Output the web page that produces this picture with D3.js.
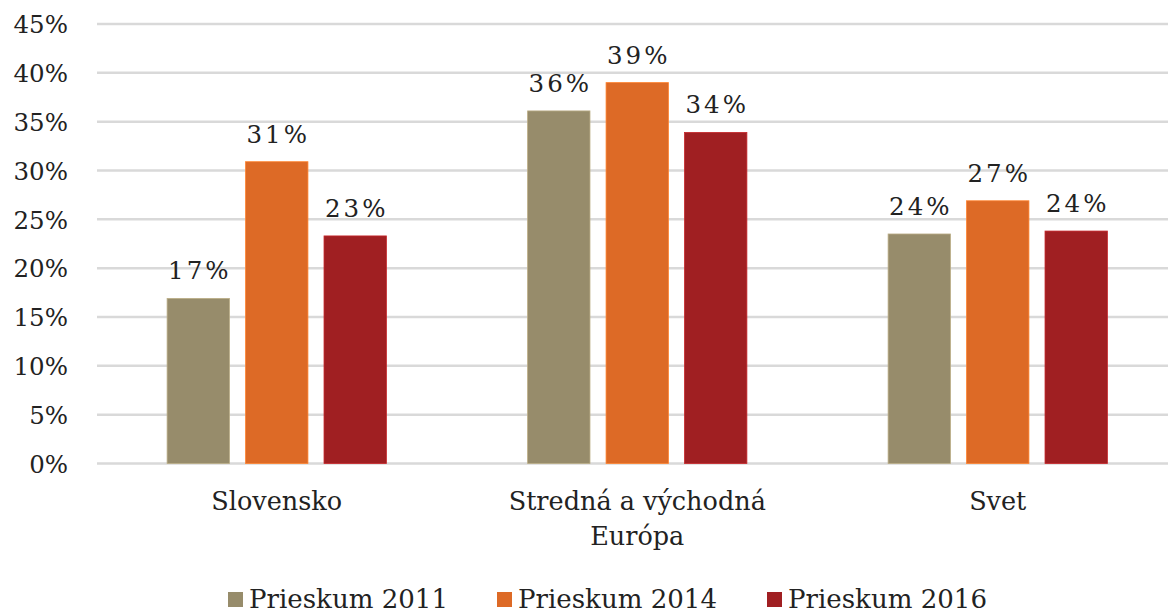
<!DOCTYPE html>
<html><head><meta charset="utf-8">
<script src="https://cdn.jsdelivr.net/npm/d3@7"></script>
<style>
html,body{margin:0;padding:0;background:#fff;}
svg{display:block;}
text{font-family:"DejaVu Serif","Liberation Serif",serif;fill:#222;}
</style></head>
<body>
<svg id="chart" width="1168" height="615"></svg>
<script>
const categories = [["Slovensko"], ["Stredná a východná", "Európa"], ["Svet"]];
const seriesNames = ["Prieskum 2011", "Prieskum 2014", "Prieskum 2016"];
const seriesColors = ["#978c6b", "#dd6a26", "#a01f22"];
const values2011 = [16.9, 36.1, 23.5];
const values2014 = [30.9, 39.0, 26.9];
const values2016 = [23.3, 33.9, 23.8];
const yTicks = [0, 5, 10, 15, 20, 25, 30, 35, 40, 45];

const series = [values2011, values2014, values2016];
const svg = d3.select("#chart");
const W = 1168;
const y = d3.scaleLinear().domain([0, 45]).range([463.5, 24]);
const x0 = d3.scaleBand().domain(d3.range(categories.length)).range([96.5, 1178]).paddingInner(0).paddingOuter(0);
const x1 = d3.scaleBand().domain(d3.range(series.length)).range([0, x0.bandwidth()]).paddingInner(0.205).paddingOuter(0.9);

// y axis labels
const yAxis = d3.axisLeft(y).tickValues(yTicks).tickFormat(d => d + "%").tickSize(0).tickPadding(29);
const gAxis = svg.append("g").attr("transform", "translate(97,0)").call(yAxis);
gAxis.select(".domain").remove();
gAxis.selectAll("text").attr("font-size", 24.5).attr("font-family", '"DejaVu Serif",serif').attr("fill", "#222").attr("dy", "0.36em");
// gridlines
svg.append("g").selectAll("line").data(yTicks).join("line")
  .attr("x1", 97).attr("x2", W).attr("y1", d => y(d)).attr("y2", d => y(d))
  .attr("stroke", "#d9d9d9").attr("stroke-width", 2.5);

// bars
const groups = svg.append("g").selectAll("g").data(categories).join("g")
  .attr("transform", (d, i) => `translate(${x0(i)},0)`);
groups.each(function(cat, ci) {
  const g = d3.select(this);
  series.forEach((vals, si) => {
    g.append("rect")
      .attr("x", x1(si)).attr("width", x1.bandwidth())
      .attr("y", y(vals[ci])).attr("height", y(0) - y(vals[ci]))
      .attr("fill", seriesColors[si])
      .attr("stroke", d3.color(seriesColors[si]).brighter(0.6)).attr("stroke-width", 0.8);
    g.append("text")
      .attr("x", x1(si) + x1.bandwidth() / 2 + 1.5)
      .attr("y", y(vals[ci]) - 19)
      .attr("text-anchor", "middle")
      .attr("font-size", 24.5).attr("letter-spacing", 3)
      .text(Math.round(vals[ci]) + "%");
  });
  const t = g.append("text").attr("text-anchor", "middle").attr("font-size", 25.5);
  cat.forEach((line, li) => {
    t.append("tspan").attr("x", x0.bandwidth() / 2).attr("y", 510 + li * 35).text(line);
  });
});

// legend
const legendX = [228, 497, 767];
const legend = svg.append("g").selectAll("g").data(seriesNames).join("g")
  .attr("transform", (d, i) => `translate(${legendX[i]},0)`);
legend.append("rect").attr("x", 0).attr("y", 592).attr("width", 15).attr("height", 15)
  .attr("fill", (d, i) => seriesColors[i]);
legend.append("text").attr("x", 21).attr("y", 608).attr("font-size", 26)
  .attr("textLength", 199).attr("lengthAdjust", "spacingAndGlyphs")
  .text(d => d);
</script>
</body></html>
